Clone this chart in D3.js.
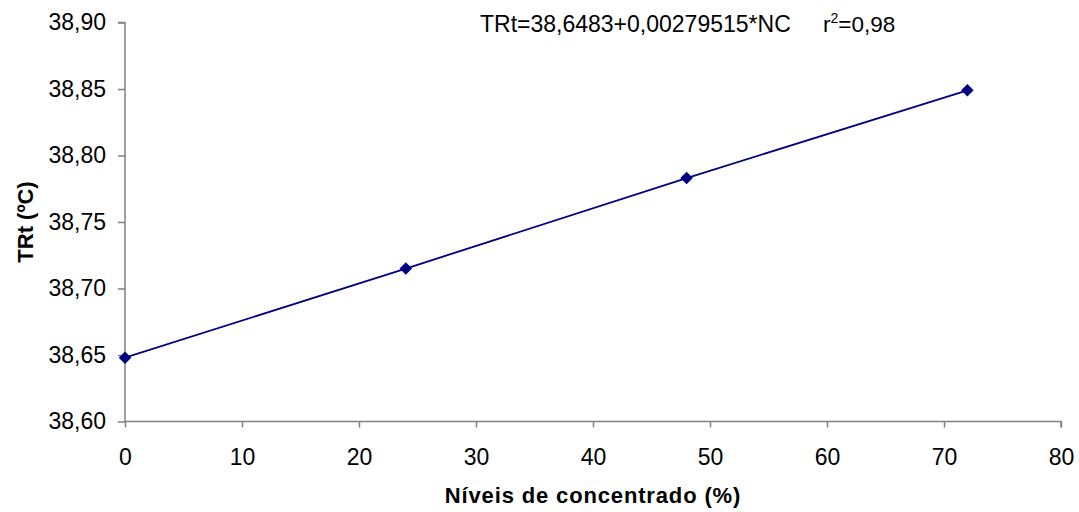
<!DOCTYPE html>
<html>
<head>
<meta charset="utf-8">
<script src="https://cdn.jsdelivr.net/npm/d3@7"></script>
<style>
  body { margin: 0; background: #fff; }
  svg { font-family: "Liberation Sans", Arial, sans-serif; }
</style>
</head>
<body>
<svg id="chart" width="1079" height="512"></svg>
<script>
const niveis = [0, 24, 48, 72];
const trt = [38.648, 38.715, 38.783, 38.849];
const xTicks = [0, 10, 20, 30, 40, 50, 60, 70, 80];
const yTicks = [38.60, 38.65, 38.70, 38.75, 38.80, 38.85, 38.90];
const equacao = "TRt=38,6483+0,00279515*NC";

const svg = d3.select("#chart");
const x = d3.scaleLinear().domain([0, 80]).range([125, 1061]);
const y = d3.scaleLinear().domain([38.60, 38.90]).range([421.5, 22.5]);
const fmtY = (d) => d3.format(".2f")(d).replace(".", ",");

// y axis
const yAxis = svg.append("g")
  .attr("transform", `translate(${x(0)},0)`)
  .call(d3.axisLeft(y).tickValues(yTicks).tickSize(7).tickPadding(12).tickFormat(fmtY));
// x axis
const xAxis = svg.append("g")
  .attr("transform", `translate(0,${y(38.60)})`)
  .call(d3.axisBottom(x).tickValues(xTicks).tickSize(6).tickPadding(21));

[xAxis, yAxis].forEach((g) => {
  g.select(".domain").attr("stroke", "#808080").attr("stroke-width", 1.5);
  g.selectAll(".tick line").attr("stroke", "#808080").attr("stroke-width", 1.5);
  g.selectAll(".tick text").attr("fill", "#000").style("font-size", "23px")
    .style("font-family", "'Liberation Sans', Arial, sans-serif");
});
xAxis.select(".domain").attr("d", `M${x(0)},0H${x(80)}V6`);
yAxis.select(".domain").attr("d", `M0,${y(38.60)}V${y(38.90)}H-7`);

const line = d3.line().x((d, i) => x(niveis[i])).y((d) => y(d));
svg.append("path")
  .datum(trt)
  .attr("d", line)
  .attr("fill", "none")
  .attr("stroke", "#000080")
  .attr("stroke-width", 1.8);

svg.selectAll("path.pt")
  .data(trt)
  .enter()
  .append("path")
  .attr("class", "pt")
  .attr("d", d3.symbol(d3.symbolDiamond2, 100))
  .attr("transform", (d, i) => `translate(${x(niveis[i])},${y(d)})`)
  .attr("fill", "#000080");

// equation
svg.append("text")
  .attr("x", 480).attr("y", 32)
  .style("font-size", "23px").attr("fill", "#000")
  .text(equacao);
const r2 = svg.append("text")
  .attr("x", 823).attr("y", 32)
  .style("font-size", "22.5px").attr("fill", "#000");
r2.append("tspan").text("r");
r2.append("tspan").attr("dy", -9).style("font-size", "14px").text("2");
r2.append("tspan").attr("dy", 9).text("=0,98");

// axis titles
svg.append("text")
  .attr("x", 593).attr("y", 503)
  .attr("text-anchor", "middle")
  .style("font-size", "22px").style("font-weight", "bold")
  .style("letter-spacing", "0.85px")
  .text("Níveis de concentrado (%)");

svg.append("text")
  .attr("transform", `translate(33,${y(38.75)}) rotate(-90)`)
  .attr("text-anchor", "middle")
  .style("font-size", "22px").style("font-weight", "bold")
  .text("TRt (ºC)");
</script>
</body>
</html>
